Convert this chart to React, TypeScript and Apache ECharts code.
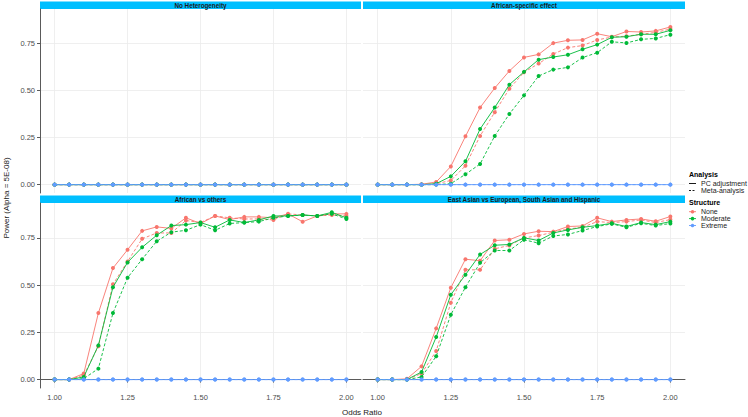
import React, { useEffect, useRef } from "react";
import * as echarts from "echarts";

// ---------- data ----------
const oddsRatios = [1.0, 1.05, 1.1, 1.15, 1.2, 1.25, 1.3, 1.35, 1.4, 1.45, 1.5, 1.55, 1.6, 1.65, 1.7, 1.75, 1.8, 1.85, 1.9, 1.95, 2.0];
const xTickValues = [1.0, 1.25, 1.5, 1.75, 2.0];
const yTickValues = [0, 0.25, 0.5, 0.75];
const panelTitles = [
  "No Heterogeneity",
  "African-specific effect",
  "African vs others",
  "East Asian vs European, South Asian and Hispanic",
];
const structureNames = ["None", "Moderate", "Extreme"];
const analysisNames = ["PC adjustment", "Meta-analysis"];
const structureColors = ["#F8766D", "#00BA38", "#619CFF"];

const zeroPower = [0, 0, 0, 0, 0, 0, 0, 0, 0, 0, 0, 0, 0, 0, 0, 0, 0, 0, 0, 0, 0];

// African-specific effect
const afrSpecNonePC = [0, 0, 0, 0.002, 0.014, 0.097, 0.257, 0.41, 0.514, 0.605, 0.677, 0.693, 0.753, 0.768, 0.77, 0.803, 0.787, 0.815, 0.812, 0.818, 0.839];
const afrSpecNoneMeta = [0, 0, 0, 0, 0.005, 0.022, 0.1, 0.259, 0.385, 0.51, 0.598, 0.644, 0.695, 0.729, 0.74, 0.77, 0.785, 0.79, 0.8, 0.81, 0.828];
const afrSpecModPC = [0, 0, 0, 0, 0.005, 0.044, 0.124, 0.296, 0.41, 0.532, 0.6, 0.665, 0.679, 0.691, 0.72, 0.745, 0.784, 0.787, 0.8, 0.8, 0.821];
const afrSpecModMeta = [0, 0, 0, 0, 0, 0.005, 0.055, 0.11, 0.259, 0.376, 0.475, 0.578, 0.612, 0.624, 0.676, 0.702, 0.76, 0.754, 0.773, 0.778, 0.798];

// African vs others
const afrOthNonePC = [0, 0, 0.032, 0.352, 0.59, 0.687, 0.787, 0.808, 0.8, 0.856, 0.826, 0.866, 0.847, 0.861, 0.861, 0.856, 0.877, 0.835, 0.866, 0.877, 0.877];
const afrOthNoneMeta = [0, 0, 0.023, 0.176, 0.504, 0.625, 0.745, 0.776, 0.776, 0.842, 0.831, 0.866, 0.856, 0.85, 0.85, 0.845, 0.877, 0.871, 0.866, 0.871, 0.866];
const afrOthModPC = [0, 0, 0.014, 0.181, 0.489, 0.62, 0.7, 0.764, 0.815, 0.82, 0.831, 0.806, 0.845, 0.831, 0.845, 0.866, 0.866, 0.871, 0.866, 0.885, 0.856];
const afrOthModMeta = [0, 0, 0.005, 0.058, 0.352, 0.539, 0.637, 0.732, 0.78, 0.79, 0.82, 0.79, 0.826, 0.831, 0.836, 0.856, 0.866, 0.871, 0.866, 0.877, 0.85];

// East Asian vs European, South Asian and Hispanic
const eastNonePC = [0, 0, 0.004, 0.07, 0.271, 0.486, 0.637, 0.629, 0.736, 0.74, 0.771, 0.785, 0.783, 0.81, 0.813, 0.856, 0.836, 0.845, 0.85, 0.838, 0.863];
const eastNoneMeta = [0, 0, 0, 0.032, 0.151, 0.407, 0.581, 0.581, 0.692, 0.71, 0.75, 0.762, 0.78, 0.797, 0.806, 0.836, 0.831, 0.836, 0.845, 0.831, 0.847];
const eastModPC = [0, 0, 0, 0.04, 0.225, 0.449, 0.555, 0.662, 0.711, 0.715, 0.75, 0.736, 0.776, 0.792, 0.806, 0.815, 0.827, 0.81, 0.831, 0.82, 0.836];
const eastModMeta = [0, 0, 0, 0.014, 0.123, 0.343, 0.489, 0.618, 0.683, 0.683, 0.74, 0.722, 0.76, 0.768, 0.789, 0.81, 0.824, 0.806, 0.827, 0.815, 0.826];

// panel -> structure -> analysis
const panelData = [
  [[zeroPower, zeroPower], [zeroPower, zeroPower], [zeroPower, zeroPower]],
  [[afrSpecNonePC, afrSpecNoneMeta], [afrSpecModPC, afrSpecModMeta], [zeroPower, zeroPower]],
  [[afrOthNonePC, afrOthNoneMeta], [afrOthModPC, afrOthModMeta], [zeroPower, zeroPower]],
  [[eastNonePC, eastNoneMeta], [eastModPC, eastModMeta], [zeroPower, zeroPower]],
];

// ---------- layout ----------
const FONT = "Liberation Sans, Arial, sans-serif";
const gridRects = [
  { left: 40, top: 9, width: 321, height: 184 },
  { left: 363, top: 9, width: 322, height: 184 },
  { left: 40, top: 203, width: 321, height: 185 },
  { left: 363, top: 203, width: 322, height: 185 },
];
const GRID_COLOR = "#EBEBEB";
const AXIS_COLOR = "#5A5A5A";
const STRIP_COLOR = "#00BFFF";

function buildOption() {
  const grid = gridRects.map((r) => ({ ...r, containLabel: false }));
  const xAxis = gridRects.map((_, i) => {
    const bottom = i >= 2;
    return {
      type: "value",
      gridIndex: i,
      min: 0.95,
      max: 2.05,
      axisLine: { show: bottom, lineStyle: { color: AXIS_COLOR, width: 1 } },
      axisTick: { show: bottom, customValues: xTickValues, length: 3, lineStyle: { color: AXIS_COLOR } },
      axisLabel: {
        show: bottom,
        customValues: xTickValues,
        formatter: (v: number) => v.toFixed(2),
        fontSize: 7.5,
        color: "#4D4D4D",
        fontFamily: FONT,
        margin: 5,
      },
      splitLine: { show: true, lineStyle: { color: GRID_COLOR, width: 0.8 } },
    };
  });
  const yAxis = gridRects.map((_, i) => {
    const left = i % 2 === 0;
    return {
      type: "value",
      gridIndex: i,
      min: -0.0445,
      max: 0.9345,
      axisLine: { show: left, lineStyle: { color: AXIS_COLOR, width: 1 } },
      axisTick: { show: left, customValues: yTickValues, length: 3, lineStyle: { color: AXIS_COLOR } },
      axisLabel: {
        show: left,
        customValues: yTickValues,
        formatter: (v: number) => v.toFixed(2),
        fontSize: 7.5,
        color: "#4D4D4D",
        fontFamily: FONT,
        margin: 5,
      },
      splitLine: { show: true, lineStyle: { color: GRID_COLOR, width: 0.8 } },
    };
  });

  const series: any[] = [];
  panelData.forEach((structs, p) => {
    structs.forEach((pair, s) => {
      pair.forEach((vals, a) => {
        series.push({
          type: "line",
          name: structureNames[s] + " " + analysisNames[a],
          xAxisIndex: p,
          yAxisIndex: p,
          data: oddsRatios.map((x, k) => [x, vals[k]]),
          symbol: "circle",
          symbolSize: 4,
          showSymbol: true,
          silent: true,
          z: 2 + s,
          itemStyle: { color: structureColors[s] },
          lineStyle: {
            color: structureColors[s],
            width: 0.9,
            type: a === 0 ? "solid" : [3, 2],
          },
          emphasis: { disabled: true },
        });
      });
    });
  });

  const graphic: any[] = [];
  // strips
  gridRects.forEach((r, i) => {
    const sy = i < 2 ? 1.5 : 195.5;
    graphic.push({
      type: "rect",
      shape: { x: r.left, y: sy, width: r.width, height: 7.5 },
      style: { fill: STRIP_COLOR },
      silent: true,
    });
    graphic.push({
      type: "text",
      x: r.left + r.width / 2,
      y: sy + 3.9,
      style: {
        text: panelTitles[i],
        fontSize: 6.3,
        fontWeight: "bold",
        fontFamily: FONT,
        fill: "#1A1A1A",
        textAlign: "center",
        textVerticalAlign: "middle",
      },
      silent: true,
    });
  });
  // axis titles
  graphic.push({
    type: "text",
    x: 362,
    y: 412,
    style: { text: "Odds Ratio", fontSize: 8, fontFamily: FONT, fill: "#1A1A1A", textAlign: "center", textVerticalAlign: "middle" },
    silent: true,
  });
  graphic.push({
    type: "text",
    x: 6,
    y: 198,
    rotation: Math.PI / 2,
    style: { text: "Power (Alpha = 5E-08)", fontSize: 8, fontFamily: FONT, fill: "#1A1A1A", textAlign: "center", textVerticalAlign: "middle" },
    silent: true,
  });
  // legend: Analysis
  const lx = 689;
  const tx = 701;
  graphic.push({
    type: "text", x: lx, y: 174,
    style: { text: "Analysis", fontSize: 7, fontWeight: "bold", fontFamily: FONT, fill: "#000", textVerticalAlign: "middle" },
    silent: true,
  });
  const analysisYs = [183.5, 190.5];
  analysisNames.forEach((nm, a) => {
    graphic.push({
      type: "line",
      shape: { x1: lx, y1: analysisYs[a], x2: lx + 7, y2: analysisYs[a] },
      style: { stroke: "#000", lineWidth: 0.9, lineDash: a === 0 ? null : [2, 1.5] },
      silent: true,
    });
    graphic.push({
      type: "text", x: tx, y: analysisYs[a],
      style: { text: nm, fontSize: 7, fontFamily: FONT, fill: "#1A1A1A", textVerticalAlign: "middle" },
      silent: true,
    });
  });
  graphic.push({
    type: "text", x: lx, y: 202.5,
    style: { text: "Structure", fontSize: 7, fontWeight: "bold", fontFamily: FONT, fill: "#000", textVerticalAlign: "middle" },
    silent: true,
  });
  const structYs = [211.7, 218.6, 225.5];
  structureNames.forEach((nm, s) => {
    graphic.push({
      type: "line",
      shape: { x1: lx, y1: structYs[s], x2: lx + 7, y2: structYs[s] },
      style: { stroke: structureColors[s], lineWidth: 0.9 },
      silent: true,
    });
    graphic.push({
      type: "circle",
      shape: { cx: lx + 3.5, cy: structYs[s], r: 1.8 },
      style: { fill: structureColors[s] },
      silent: true,
    });
    graphic.push({
      type: "text", x: tx, y: structYs[s],
      style: { text: nm, fontSize: 7, fontFamily: FONT, fill: "#1A1A1A", textVerticalAlign: "middle" },
      silent: true,
    });
  });

  return {
    animation: false,
    backgroundColor: "#FFFFFF",
    grid,
    xAxis,
    yAxis,
    series,
    graphic,
  };
}

export default function App() {
  const ref = useRef<HTMLDivElement | null>(null);
  useEffect(() => {
    if (!ref.current) return;
    const chart = echarts.init(ref.current, null, { renderer: "svg" });
    chart.setOption(buildOption() as any);
    return () => chart.dispose();
  }, []);
  return (
    <div
      ref={ref}
      style={{ position: "absolute", left: 0, top: 0, width: 748, height: 417 }}
    />
  );
}
